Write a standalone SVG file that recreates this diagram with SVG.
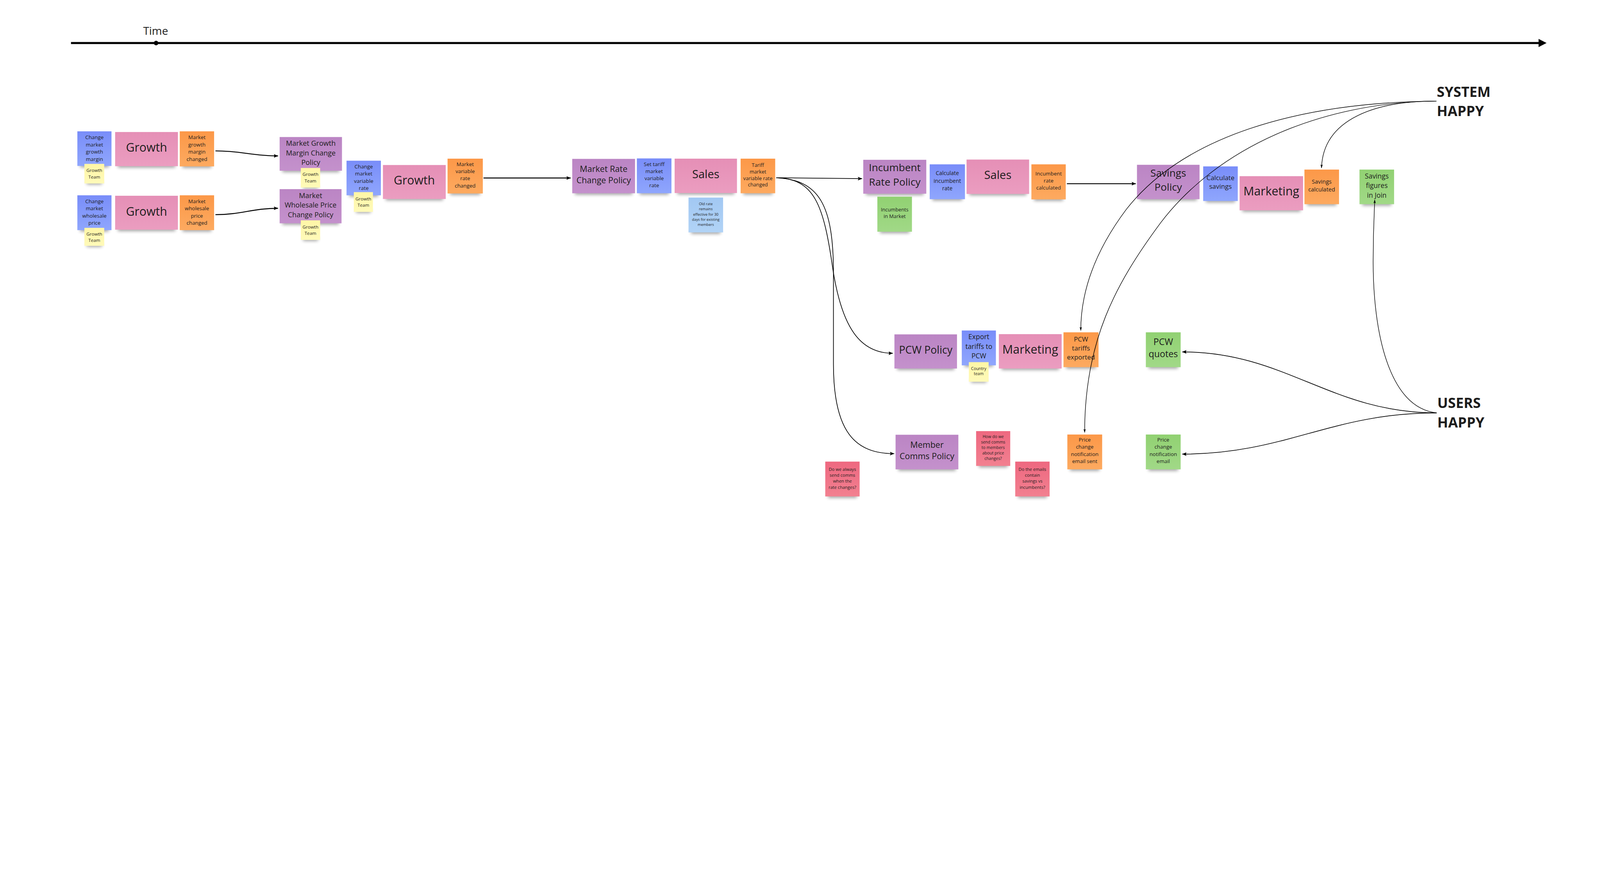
<svg xmlns="http://www.w3.org/2000/svg" width="7032" height="2275" viewBox="0 0 7032 2275" preserveAspectRatio="xMinYMin meet">
<style>
svg:root{width:100vw;height:100vh;display:block}
.t{font-family:"Open Sans","Noto Sans","DejaVu Sans",sans-serif;fill:#1c1c1c;text-anchor:middle}
.big{font-family:"Open Sans","Noto Sans","DejaVu Sans",sans-serif;font-weight:700;fill:#1c1c1c;font-size:62px}
.sh{fill:#000;opacity:.38;filter:url(#blur)}
.blue{fill:url(#gBlue)}.pink{fill:url(#gPink)}.orange{fill:url(#gOrange)}.purple{fill:url(#gPurple)}
.yellow{fill:url(#gYellow)}.green{fill:url(#gGreen)}.lblue{fill:url(#gLBlue)}.red{fill:url(#gRed)}
.c{fill:none;stroke:#000;stroke-linecap:butt}
.c4{stroke-width:4;marker-end:url(#ah)}
.c3{stroke-width:3;marker-end:url(#ah)}
.c2{stroke-width:2.4;marker-end:url(#ahs)}
</style>
<defs>
<filter id="blur" x="-20%" y="-150%" width="140%" height="400%"><feGaussianBlur stdDeviation="7"/></filter>
<linearGradient id="gBlue" x1="0" y1="0" x2="0" y2="1"><stop offset="0" stop-color="#798df9"/><stop offset="1" stop-color="#8fa6fd"/></linearGradient>
<linearGradient id="gPink" x1="0" y1="0" x2="0" y2="1"><stop offset="0" stop-color="#e58fb6"/><stop offset="1" stop-color="#eb9dc0"/></linearGradient>
<linearGradient id="gOrange" x1="0" y1="0" x2="0" y2="1"><stop offset="0" stop-color="#fc9848"/><stop offset="1" stop-color="#fdaa60"/></linearGradient>
<linearGradient id="gPurple" x1="0" y1="0" x2="0" y2="1"><stop offset="0" stop-color="#bb85c4"/><stop offset="1" stop-color="#c491cc"/></linearGradient>
<linearGradient id="gYellow" x1="0" y1="0" x2="0" y2="1"><stop offset="0" stop-color="#fff6a6"/><stop offset="1" stop-color="#fffab9"/></linearGradient>
<linearGradient id="gGreen" x1="0" y1="0" x2="0" y2="1"><stop offset="0" stop-color="#91d172"/><stop offset="1" stop-color="#a1d987"/></linearGradient>
<linearGradient id="gLBlue" x1="0" y1="0" x2="0" y2="1"><stop offset="0" stop-color="#a2c8f3"/><stop offset="1" stop-color="#b1d3f6"/></linearGradient>
<linearGradient id="gRed" x1="0" y1="0" x2="0" y2="1"><stop offset="0" stop-color="#ee6880"/><stop offset="1" stop-color="#f28090"/></linearGradient>
<marker id="ah" viewBox="0 0 20 16" refX="19" refY="8" markerWidth="20" markerHeight="16" markerUnits="userSpaceOnUse" orient="auto"><path d="M0,0 L20,8 L0,16 L4,8 z" fill="#000"/></marker>
<marker id="ahs" viewBox="0 0 16 10" refX="15" refY="5" markerWidth="16" markerHeight="10" markerUnits="userSpaceOnUse" orient="auto"><path d="M0,0 L16,5 L0,10 L3,5 z" fill="#000"/></marker>
</defs>
<rect width="7032" height="2275" fill="#fff"/>

<g id="timeline">
<line x1="312" y1="189" x2="6766" y2="189" stroke="#000" stroke-width="9"/>
<polygon points="6797,189 6762,171 6762,207" fill="#000"/>
<circle cx="686" cy="189" r="10" fill="#000"/>
<text class="t" x="684" y="153" style="font-size:48px">Time</text>
</g>

<g id="system-happy"><text class="big" x="6315" y="425">SYSTEM</text><text class="big" x="6315" y="510">HAPPY</text></g>
<g id="users-happy"><text class="big" x="6317" y="1793">USERS</text><text class="big" x="6317" y="1879">HAPPY</text></g>

<g id="n-change-growth-margin"><rect class="sh" x="352" y="717" width="126" height="18"/><rect class="blue" x="340" y="577" width="150" height="152"/>
<text class="t" style="font-size:23px"><tspan x="415" y="611">Change</tspan><tspan x="415" y="643">market</tspan><tspan x="415" y="675">growth</tspan><tspan x="415" y="707">margin</tspan></text></g>
<g id="n-growth-team-1"><rect class="sh" x="381" y="794" width="67" height="16"/><rect class="yellow" x="371" y="720" width="87" height="86"/>
<text class="t" style="font-size:20px"><tspan x="414.5" y="756">Growth</tspan><tspan x="414.5" y="784">Team</tspan></text></g>
<g id="n-growth-1"><rect class="sh" x="518" y="718" width="252" height="18"/><rect class="pink" x="506" y="580" width="276" height="150"/>
<text class="t" x="644" y="667" style="font-size:52px">Growth</text></g>
<g id="n-margin-changed"><rect class="sh" x="802" y="719" width="127" height="18"/><rect class="orange" x="790" y="577" width="151" height="154"/>
<text class="t" style="font-size:23px"><tspan x="865.5" y="611">Market</tspan><tspan x="865.5" y="643">growth</tspan><tspan x="865.5" y="675">margin</tspan><tspan x="865.5" y="707">changed</tspan></text></g>

<g id="n-change-wholesale"><rect class="sh" x="352" y="999" width="126" height="18"/><rect class="blue" x="340" y="858" width="150" height="153"/>
<text class="t" style="font-size:23px"><tspan x="415" y="892">Change</tspan><tspan x="415" y="924">market</tspan><tspan x="415" y="956">wholesale</tspan><tspan x="415" y="988">price</tspan></text></g>
<g id="n-growth-team-2"><rect class="sh" x="381" y="1068" width="67" height="16"/><rect class="yellow" x="371" y="1001" width="87" height="79"/>
<text class="t" style="font-size:20px"><tspan x="414.5" y="1035">Growth</tspan><tspan x="414.5" y="1063">Team</tspan></text></g>
<g id="n-growth-2"><rect class="sh" x="518" y="997" width="252" height="18"/><rect class="pink" x="506" y="860" width="276" height="149"/>
<text class="t" x="644" y="947" style="font-size:52px">Growth</text></g>
<g id="n-wholesale-changed"><rect class="sh" x="802" y="999" width="127" height="18"/><rect class="orange" x="790" y="858" width="151" height="153"/>
<text class="t" style="font-size:23px"><tspan x="865.5" y="892">Market</tspan><tspan x="865.5" y="924">wholesale</tspan><tspan x="865.5" y="956">price</tspan><tspan x="865.5" y="988">changed</tspan></text></g>

<g id="n-margin-policy"><rect class="sh" x="1241" y="738" width="250" height="18"/><rect class="purple" x="1229" y="602" width="274" height="148"/>
<text class="t" style="font-size:31px"><tspan x="1366" y="641">Market Growth</tspan><tspan x="1366" y="683">Margin Change</tspan><tspan x="1366" y="725">Policy</tspan></text></g>
<g id="n-growth-team-3"><rect class="sh" x="1332" y="812" width="65" height="16"/><rect class="yellow" x="1322" y="738" width="85" height="86"/>
<text class="t" style="font-size:20px"><tspan x="1364.5" y="773">Growth</tspan><tspan x="1364.5" y="801">Team</tspan></text></g>
<g id="n-wholesale-policy"><rect class="sh" x="1241" y="969" width="248" height="18"/><rect class="purple" x="1229" y="831" width="272" height="150"/>
<text class="t" style="font-size:31px"><tspan x="1365" y="870">Market</tspan><tspan x="1365" y="912">Wholesale Price</tspan><tspan x="1365" y="954">Change Policy</tspan></text></g>
<g id="n-growth-team-4"><rect class="sh" x="1332" y="1042" width="65" height="16"/><rect class="yellow" x="1322" y="968" width="85" height="86"/>
<text class="t" style="font-size:20px"><tspan x="1364.5" y="1004">Growth</tspan><tspan x="1364.5" y="1032">Team</tspan></text></g>

<g id="n-change-variable"><rect class="sh" x="1535" y="846" width="127" height="18"/><rect class="blue" x="1523" y="706" width="151" height="152"/>
<text class="t" style="font-size:23px"><tspan x="1598.5" y="740">Change</tspan><tspan x="1598.5" y="771">market</tspan><tspan x="1598.5" y="803">variable</tspan><tspan x="1598.5" y="834">rate</tspan></text></g>
<g id="n-growth-team-5"><rect class="sh" x="1565" y="919" width="64" height="16"/><rect class="yellow" x="1555" y="844" width="84" height="87"/>
<text class="t" style="font-size:20px"><tspan x="1597" y="880">Growth</tspan><tspan x="1597" y="908">Team</tspan></text></g>
<g id="n-growth-3"><rect class="sh" x="1695" y="862" width="252" height="18"/><rect class="pink" x="1683" y="725" width="276" height="149"/>
<text class="t" x="1821" y="811" style="font-size:52px">Growth</text></g>
<g id="n-variable-changed"><rect class="sh" x="1979" y="838" width="131" height="18"/><rect class="orange" x="1967" y="697" width="155" height="153"/>
<text class="t" style="font-size:23px"><tspan x="2044.5" y="730">Market</tspan><tspan x="2044.5" y="761">variable</tspan><tspan x="2044.5" y="792">rate</tspan><tspan x="2044.5" y="824">changed</tspan></text></g>

<g id="n-market-rate-policy"><rect class="sh" x="2527" y="837" width="252" height="18"/><rect class="purple" x="2515" y="698" width="276" height="151"/>
<text class="t" style="font-size:37px"><tspan x="2653" y="755">Market Rate</tspan><tspan x="2653" y="806">Change Policy</tspan></text></g>
<g id="n-set-tariff"><rect class="sh" x="2811" y="837" width="128" height="18"/><rect class="blue" x="2799" y="696" width="152" height="153"/>
<text class="t" style="font-size:23px"><tspan x="2875" y="730">Set tariff</tspan><tspan x="2875" y="761">market</tspan><tspan x="2875" y="792">variable</tspan><tspan x="2875" y="823">rate</tspan></text></g>
<g id="n-sales-1"><rect class="sh" x="2977" y="836" width="250" height="18"/><rect class="pink" x="2965" y="697" width="274" height="151"/>
<text class="t" x="3102" y="783" style="font-size:50px">Sales</text></g>
<g id="n-old-rate"><rect class="sh" x="3038" y="1009" width="128" height="18"/><rect class="lblue" x="3026" y="868" width="152" height="153"/>
<text class="t" style="font-size:16px"><tspan x="3102" y="902">Old rate</tspan><tspan x="3102" y="924">remains</tspan><tspan x="3102" y="947">effective for 30</tspan><tspan x="3102" y="970">days for existing</tspan><tspan x="3102" y="992">members</tspan></text></g>
<g id="n-tariff-changed"><rect class="sh" x="3267" y="837" width="128" height="18"/><rect class="orange" x="3255" y="697" width="152" height="152"/>
<text class="t" style="font-size:22px"><tspan x="3331" y="733">Tariff</tspan><tspan x="3331" y="762">market</tspan><tspan x="3331" y="791">variable rate</tspan><tspan x="3331" y="819">changed</tspan></text></g>

<g id="n-incumbent-policy"><rect class="sh" x="3806" y="839" width="253" height="18"/><rect class="purple" x="3794" y="702" width="277" height="149"/>
<text class="t" style="font-size:45px"><tspan x="3932.5" y="752">Incumbent</tspan><tspan x="3932.5" y="815">Rate Policy</tspan></text></g>
<g id="n-incumbents-market"><rect class="sh" x="3868" y="1006" width="128" height="18"/><rect class="green" x="3856" y="864" width="152" height="154"/>
<text class="t" style="font-size:22px"><tspan x="3932" y="928">Incumbents</tspan><tspan x="3932" y="958">in Market</tspan></text></g>
<g id="n-calc-incumbent"><rect class="sh" x="4098" y="863" width="131" height="18"/><rect class="blue" x="4086" y="722" width="155" height="153"/>
<text class="t" style="font-size:24px"><tspan x="4163.5" y="770">Calculate</tspan><tspan x="4163.5" y="803">incumbent</tspan><tspan x="4163.5" y="836">rate</tspan></text></g>
<g id="n-sales-2"><rect class="sh" x="4260" y="840" width="251" height="18"/><rect class="pink" x="4248" y="701" width="275" height="151"/>
<text class="t" x="4385.5" y="786" style="font-size:50px">Sales</text></g>
<g id="n-incumbent-calculated"><rect class="sh" x="4545" y="864" width="127" height="18"/><rect class="orange" x="4533" y="722" width="151" height="154"/>
<text class="t" style="font-size:23px"><tspan x="4608.5" y="771">Incumbent</tspan><tspan x="4608.5" y="802">rate</tspan><tspan x="4608.5" y="833">calculated</tspan></text></g>

<g id="n-savings-policy"><rect class="sh" x="5009" y="863" width="251" height="18"/><rect class="purple" x="4997" y="724" width="275" height="151"/>
<text class="t" style="font-size:45px"><tspan x="5134.5" y="776">Savings</tspan><tspan x="5134.5" y="838">Policy</tspan></text></g>
<g id="n-calc-savings"><rect class="sh" x="5300" y="871" width="128" height="18"/><rect class="blue" x="5288" y="731" width="152" height="152"/>
<text class="t" style="font-size:29px"><tspan x="5364" y="791">Calculate</tspan><tspan x="5364" y="830">savings</tspan></text></g>
<g id="n-marketing-1"><rect class="sh" x="5460" y="912" width="255" height="18"/><rect class="pink" x="5448" y="774" width="279" height="150"/>
<text class="t" x="5587.5" y="858" style="font-size:52px">Marketing</text></g>
<g id="n-savings-calculated"><rect class="sh" x="5745" y="885" width="128" height="18"/><rect class="orange" x="5733" y="745" width="152" height="152"/>
<text class="t" style="font-size:25px"><tspan x="5809" y="807">Savings</tspan><tspan x="5809" y="841">calculated</tspan></text></g>
<g id="n-savings-join"><rect class="sh" x="5987" y="885" width="128" height="18"/><rect class="green" x="5975" y="745" width="152" height="152"/>
<text class="t" style="font-size:30px"><tspan x="6051" y="784">Savings</tspan><tspan x="6051" y="826">figures</tspan><tspan x="6051" y="868">in Join</tspan></text></g>

<g id="n-pcw-policy"><rect class="sh" x="3943" y="1607" width="251" height="18"/><rect class="purple" x="3931" y="1469" width="275" height="150"/>
<text class="t" x="4068.5" y="1553" style="font-size:46px">PCW Policy</text></g>
<g id="n-export-tariffs"><rect class="sh" x="4239" y="1593" width="126" height="18"/><rect class="blue" x="4227" y="1452" width="150" height="153"/>
<text class="t" style="font-size:30px"><tspan x="4302" y="1490">Export</tspan><tspan x="4302" y="1533">tariffs to</tspan><tspan x="4302" y="1575">PCW</tspan></text></g>
<g id="n-country-team"><rect class="sh" x="4268" y="1665" width="67" height="16"/><rect class="yellow" x="4258" y="1591" width="87" height="86"/>
<text class="t" style="font-size:18px"><tspan x="4301.5" y="1625">Country</tspan><tspan x="4301.5" y="1649">team</tspan></text></g>
<g id="n-marketing-2"><rect class="sh" x="4402" y="1607" width="252" height="18"/><rect class="pink" x="4390" y="1468" width="276" height="151"/>
<text class="t" x="4528" y="1553" style="font-size:52px">Marketing</text></g>
<g id="n-pcw-exported"><rect class="sh" x="4686" y="1601" width="130" height="18"/><rect class="orange" x="4674" y="1460" width="154" height="153"/>
<text class="t" style="font-size:29px"><tspan x="4751" y="1501">PCW</tspan><tspan x="4751" y="1540">tariffs</tspan><tspan x="4751" y="1579">exported</tspan></text></g>
<g id="n-pcw-quotes"><rect class="sh" x="5048" y="1601" width="129" height="18"/><rect class="green" x="5036" y="1460" width="153" height="153"/>
<text class="t" style="font-size:40px"><tspan x="5112.5" y="1516">PCW</tspan><tspan x="5112.5" y="1570">quotes</tspan></text></g>

<g id="n-member-comms"><rect class="sh" x="3948" y="2050" width="252" height="18"/><rect class="purple" x="3936" y="1910" width="276" height="152"/>
<text class="t" style="font-size:37px"><tspan x="4074" y="1967">Member</tspan><tspan x="4074" y="2017">Comms Policy</tspan></text></g>
<g id="n-q-always"><rect class="sh" x="3639" y="2169" width="127" height="18"/><rect class="red" x="3627" y="2028" width="151" height="153"/>
<text class="t" style="font-size:19px"><tspan x="3702.5" y="2068">Do we always</tspan><tspan x="3702.5" y="2094">send comms</tspan><tspan x="3702.5" y="2121">when the</tspan><tspan x="3702.5" y="2147">rate changes?</tspan></text></g>
<g id="n-q-how"><rect class="sh" x="4302" y="2035" width="126" height="18"/><rect class="red" x="4290" y="1894" width="150" height="153"/>
<text class="t" style="font-size:18px"><tspan x="4365" y="1924">How do we</tspan><tspan x="4365" y="1948">send comms</tspan><tspan x="4365" y="1972">to members</tspan><tspan x="4365" y="1997">about price</tspan><tspan x="4365" y="2021">changes?</tspan></text></g>
<g id="n-q-emails"><rect class="sh" x="4474" y="2169" width="127" height="18"/><rect class="red" x="4462" y="2028" width="151" height="153"/>
<text class="t" style="font-size:19px"><tspan x="4537.5" y="2068">Do the emails</tspan><tspan x="4537.5" y="2094">contain</tspan><tspan x="4537.5" y="2121">savings vs</tspan><tspan x="4537.5" y="2147">incumbents?</tspan></text></g>
<g id="n-email-sent"><rect class="sh" x="4703" y="2050" width="129" height="18"/><rect class="orange" x="4691" y="1909" width="153" height="153"/>
<text class="t" style="font-size:23px"><tspan x="4767.5" y="1940">Price</tspan><tspan x="4767.5" y="1971">change</tspan><tspan x="4767.5" y="2003">notification</tspan><tspan x="4767.5" y="2034">email sent</tspan></text></g>
<g id="n-email"><rect class="sh" x="5048" y="2050" width="129" height="18"/><rect class="green" x="5036" y="1909" width="153" height="153"/>
<text class="t" style="font-size:23px"><tspan x="5112.5" y="1940">Price</tspan><tspan x="5112.5" y="1971">change</tspan><tspan x="5112.5" y="2003">notification</tspan><tspan x="5112.5" y="2034">email</tspan></text></g>

<g id="connectors">
<path class="c c4" d="M947,663 C1060,663 1110,685 1222,685"/>
<path class="c c4" d="M947,943 C1060,943 1110,915 1222,915"/>
<path class="c c4" d="M2125,782 L2508,782"/>
<path class="c c3" d="M3412,781 L3789,785"/>
<path class="c c3" d="M3412,781 C3580,785 3620,900 3660,1180 C3700,1440 3780,1552 3924,1552"/>
<path class="c c3" d="M3412,781 C3600,790 3663,900 3663,1200 L3663,1600 C3663,1900 3760,1993 3930,1993"/>
<path class="c c4" d="M4689,807 L4992,807"/>
<path class="c c2" d="M6313,444 C6050,444 5815,520 5808,738"/>
<path class="c c2" d="M6313,444 C5700,450 5200,600 4950,920 C4800,1120 4750,1300 4750,1452"/>
<path class="c c2" d="M6313,444 C5800,450 5350,650 5100,980 C4900,1250 4767,1500 4767,1900"/>
<path class="c c3" d="M6314,1814 C5850,1814 5650,1546 5196,1546"/>
<path class="c c3" d="M6314,1814 C5850,1814 5650,1995 5196,1995"/>
<path class="c c2" d="M6314,1814 C6100,1790 6035,1450 6035,1150 C6035,1000 6040,940 6042,878"/>
</g>
</svg>
